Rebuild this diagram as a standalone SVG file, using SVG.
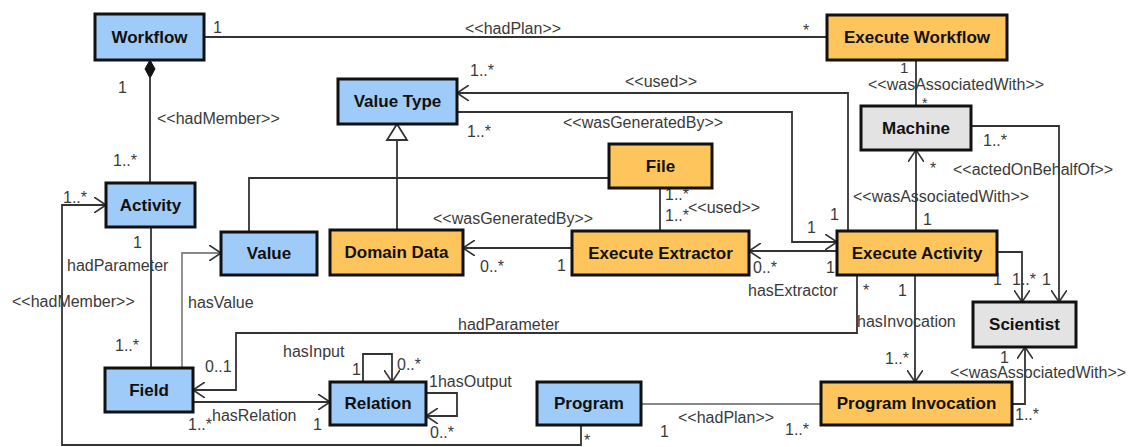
<svg xmlns="http://www.w3.org/2000/svg" width="1136" height="447" viewBox="0 0 1136 447">
<defs>
<marker id="arr" markerUnits="userSpaceOnUse" viewBox="0 0 12 16" refX="12" refY="8" markerWidth="12" markerHeight="16" orient="auto">
<path d="M0,0 L12,8 L0,16" fill="none" stroke="#333" stroke-width="1.6"/>
</marker>
</defs>
<style>
.box{stroke:#111;stroke-width:3}
.blue{fill:#9ecbf7}
.orange{fill:#fdc55c}
.gray{fill:#e3e3e3}
.name{font-family:"Liberation Sans",Arial,sans-serif;font-weight:bold;font-size:17px;fill:#111;text-anchor:middle}
.e{fill:none;stroke:#333;stroke-width:1.8}
.lt{stroke:#888}
.lbl{font-family:"Liberation Sans",Arial,sans-serif;font-size:16px;fill:#3a3a3a}
</style>
<rect width="1136" height="447" fill="#fff"/>
<g id="connectors">
<path class="e" d="M204,37 H827"/>
<path class="e" d="M150,78 V183"/>
<polygon points="150,60 155,69 150,78 145,69" fill="#111" stroke="#111" stroke-width="1"/>
<path class="e" d="M581,425 V445 H62 V205 H106" marker-end="url(#arr)"/>
<path class="e" d="M397,230 V140"/>
<polygon points="397,124 387,140 407,140" fill="#fff" stroke="#333" stroke-width="1.8"/>
<path class="e" d="M249,232 V178 H609"/>
<path class="e" d="M848,231 V93 H457" marker-end="url(#arr)"/>
<path class="e" d="M457,112 H792 V242 H837" marker-end="url(#arr)"/>
<path class="e" d="M837,251 H749" marker-end="url(#arr)"/>
<path class="e" d="M572,248 H463" marker-end="url(#arr)"/>
<path class="e" d="M660,188 V231"/>
<path class="e" d="M916,60 V106"/>
<path class="e" d="M916,231 V150" marker-end="url(#arr)"/>
<path class="e" d="M971,126 H1059 V302" marker-end="url(#arr)"/>
<path class="e" d="M997,252 H1022 V302" marker-end="url(#arr)"/>
<path class="e" d="M915,275 V382" marker-end="url(#arr)"/>
<path class="e" d="M857,275 V333 H236 V390 H193" marker-end="url(#arr)"/>
<path class="e" d="M1012,404 H1025 V347" marker-end="url(#arr)"/>
<path class="e lt" d="M641,404 H821"/>
<path class="e" d="M151,227 V368"/>
<path class="e lt" d="M182,368 V253 H221" marker-end="url(#arr)"/>
<path class="e" d="M193,402 H330" marker-end="url(#arr)"/>
<path class="e" d="M363,382 V354 H392 V382" marker-end="url(#arr)"/>
<path class="e" d="M426,393 H457 V416 H426" marker-end="url(#arr)"/>
</g>
<g id="labels" class="lbl">
<text x="213" y="33">1</text>
<text x="465" y="34">&lt;&lt;hadPlan&gt;&gt;</text>
<text x="803" y="36">*</text>
<text x="118" y="93">1</text>
<text x="157" y="124">&lt;&lt;hadMember&gt;&gt;</text>
<text x="113" y="166">1..*</text>
<text x="63" y="203">1..*</text>
<text x="12" y="307">&lt;&lt;hadMember&gt;&gt;</text>
<text x="584" y="446">*</text>
<text x="470" y="76">1..*</text>
<text x="625" y="87">&lt;&lt;used&gt;&gt;</text>
<text x="830" y="220">1</text>
<text x="467" y="137">1..*</text>
<text x="563" y="128">&lt;&lt;wasGeneratedBy&gt;&gt;</text>
<text x="807" y="233">1</text>
<text x="753" y="273">0..*</text>
<text x="826" y="273">1</text>
<text x="748" y="296">hasExtractor</text>
<text x="433" y="224">&lt;&lt;wasGeneratedBy&gt;&gt;</text>
<text x="480" y="272">0..*</text>
<text x="557" y="271">1</text>
<text x="665" y="200">1..*</text>
<text x="665" y="221">1..*</text>
<text x="688" y="213">&lt;&lt;used&gt;&gt;</text>
<text x="900" y="73" font-size="15">1</text>
<text x="868" y="90">&lt;&lt;wasAssociatedWith&gt;&gt;</text>
<text x="922" y="108" font-size="14">*</text>
<text x="930" y="174">*</text>
<text x="853" y="202">&lt;&lt;wasAssociatedWith&gt;&gt;</text>
<text x="923" y="225">1</text>
<text x="983" y="146">1..*</text>
<text x="953" y="175">&lt;&lt;actedOnBehalfOf&gt;&gt;</text>
<text x="1042" y="285">1</text>
<text x="993" y="285">1</text>
<text x="1012" y="285">1..*</text>
<text x="898" y="296">1</text>
<text x="863" y="296">*</text>
<text x="857" y="327">hasInvocation</text>
<text x="885" y="364">1..*</text>
<text x="458" y="330">hadParameter</text>
<text x="205" y="372">0..1</text>
<text x="1000" y="363">1</text>
<text x="950" y="378">&lt;&lt;wasAssociatedWith&gt;&gt;</text>
<text x="1015" y="420">1..*</text>
<text x="678" y="423">&lt;&lt;hadPlan&gt;&gt;</text>
<text x="660" y="437">1</text>
<text x="785" y="435">1..*</text>
<text x="133" y="248">1</text>
<text x="67" y="271">hadParameter</text>
<text x="115" y="351">1..*</text>
<text x="188" y="308">hasValue</text>
<text x="188" y="430">1..*</text>
<text x="212" y="421">hasRelation</text>
<text x="313" y="430">1</text>
<text x="283" y="357">hasInput</text>
<text x="352" y="375">1</text>
<text x="397" y="370">0..*</text>
<text x="429" y="387">1hasOutput</text>
<text x="430" y="438">0..*</text>
</g>
<g id="workflow"><rect class="box blue" x="95" y="14" width="109" height="46"/><text class="name" x="149.5" y="43">Workflow</text></g>
<g id="execute-workflow"><rect class="box orange" x="827" y="15" width="180" height="45"/><text class="name" x="917" y="43">Execute Workflow</text></g>
<g id="value-type"><rect class="box blue" x="338" y="79" width="119" height="45"/><text class="name" x="397.5" y="107">Value Type</text></g>
<g id="machine"><rect class="box gray" x="861" y="106" width="110" height="44"/><text class="name" x="916" y="134">Machine</text></g>
<g id="file"><rect class="box orange" x="609" y="144" width="103" height="44"/><text class="name" x="660.5" y="172">File</text></g>
<g id="activity"><rect class="box blue" x="106" y="183" width="89" height="44"/><text class="name" x="150.5" y="211">Activity</text></g>
<g id="value"><rect class="box blue" x="221" y="232" width="96" height="43"/><text class="name" x="269" y="259">Value</text></g>
<g id="domain-data"><rect class="box orange" x="330" y="230" width="133" height="45"/><text class="name" x="396.5" y="258">Domain Data</text></g>
<g id="execute-extractor"><rect class="box orange" x="572" y="231" width="177" height="44"/><text class="name" x="660.5" y="259">Execute Extractor</text></g>
<g id="execute-activity"><rect class="box orange" x="837" y="231" width="160" height="44"/><text class="name" x="917" y="259">Execute Activity</text></g>
<g id="scientist"><rect class="box gray" x="973" y="302" width="103" height="45"/><text class="name" x="1024.5" y="330">Scientist</text></g>
<g id="field"><rect class="box blue" x="105" y="368" width="88" height="44"/><text class="name" x="149" y="396">Field</text></g>
<g id="relation"><rect class="box blue" x="330" y="382" width="96" height="43"/><text class="name" x="378" y="409">Relation</text></g>
<g id="program"><rect class="box blue" x="537" y="382" width="104" height="43"/><text class="name" x="589" y="409">Program</text></g>
<g id="program-invocation"><rect class="box orange" x="821" y="382" width="191" height="43"/><text class="name" x="916.5" y="409">Program Invocation</text></g>
</svg>
